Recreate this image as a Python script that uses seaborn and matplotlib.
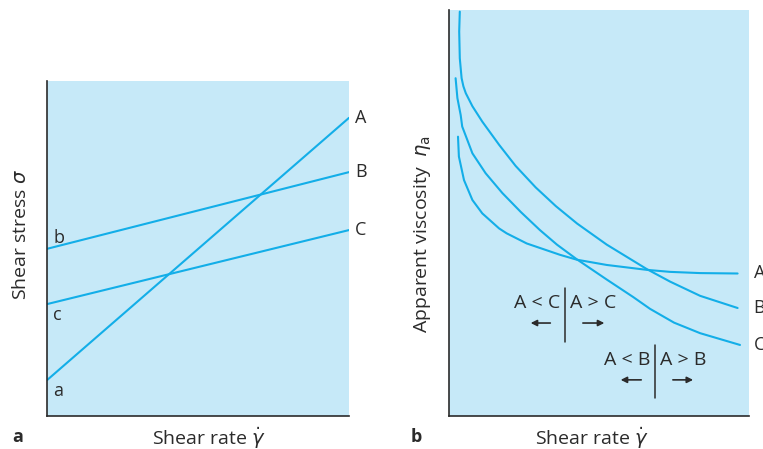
import matplotlib
matplotlib.use("Agg")
import matplotlib.pyplot as plt
import seaborn as sns
import pandas as pd

# panel a: straight flow curves (start at x=0, end at x=10)
lines_x = [0, 10]
line_A = [1.07, 8.9]
line_B = [4.99, 7.28]
line_C = [3.34, 5.55]

# panel b: apparent viscosity curves
B_x = [0.36, 0.34, 0.36, 0.42, 0.48, 0.56, 0.78, 1.11, 1.67, 2.22, 2.89, 3.56, 4.27, 5.26, 6.59, 7.37, 8.37, 9.62]
B_y = [9.96, 9.47, 8.81, 8.32, 8.12, 7.95, 7.63, 7.25, 6.68, 6.16, 5.63, 5.17, 4.74, 4.22, 3.62, 3.31, 2.96, 2.66]
C_x = [0.22, 0.28, 0.39, 0.44, 0.78, 1.22, 1.78, 2.40, 3.03, 3.60, 4.26, 5.26, 6.14, 6.70, 7.50, 8.37, 9.70]
C_y = [8.32, 7.83, 7.41, 7.13, 6.47, 5.98, 5.49, 5.02, 4.58, 4.22, 3.86, 3.36, 2.93, 2.64, 2.30, 2.04, 1.75]
A_x = [0.30, 0.33, 0.50, 0.78, 1.11, 1.67, 1.92, 2.59, 3.70, 4.26, 5.26, 6.59, 7.37, 8.37, 9.62]
A_y = [6.88, 6.39, 5.81, 5.32, 4.99, 4.62, 4.50, 4.25, 3.97, 3.85, 3.72, 3.60, 3.55, 3.52, 3.51]

sns.set_theme(style="white")
plt.rcParams['font.family'] = ['Open Sans', 'DejaVu Sans']
plt.rcParams['mathtext.fontset'] = 'dejavusans'

bg = '#c6e9f8'
blue = '#13aee8'
ink = '#2b2b2b'
fs = 13
lfs = 14

fig = plt.figure(figsize=(7.63, 4.49), dpi=100)
ax1 = fig.add_axes([47/763, 33/449, 302/763, 335/449])
ax2 = fig.add_axes([449/763, 33/449, 300/763, 406/449])

# panel a
for ys, lab in [(line_A, 'A'), (line_B, 'B'), (line_C, 'C')]:
    df = pd.DataFrame({'x': lines_x, 'y': ys})
    sns.lineplot(data=df, x='x', y='y', ax=ax1, color=blue, lw=1.5, estimator=None)
    ax1.text(10.2, ys[1], lab, ha='left', va='center', fontsize=fs, color=ink, clip_on=False)
ax1.text(0.2, line_B[0] + 0.05, 'b', ha='left', va='bottom', fontsize=fs, color=ink)
ax1.text(0.2, line_C[0] - 0.05, 'c', ha='left', va='top', fontsize=fs, color=ink)
ax1.text(0.2, line_A[0] - 0.05, 'a', ha='left', va='top', fontsize=fs, color=ink)

# panel b
for xs, ys, lab in [(A_x, A_y, 'A'), (B_x, B_y, 'B'), (C_x, C_y, 'C')]:
    df = pd.DataFrame({'x': xs, 'y': ys})
    sns.lineplot(data=df, x='x', y='y', ax=ax2, color=blue, lw=1.5, sort=False,
                 estimator=None, solid_joinstyle='round')
    ax2.text(10.15, ys[-1], lab, ha='left', va='center', fontsize=fs, color=ink, clip_on=False)

for ax in (ax1, ax2):
    ax.set_facecolor(bg)
    ax.set_xlim(0, 10)
    ax.set_ylim(0, 10)
    ax.set_xticks([])
    ax.set_yticks([])
    for s in ['top', 'right']:
        ax.spines[s].set_visible(False)
    for s in ['left', 'bottom']:
        ax.spines[s].set_color(ink)
        ax.spines[s].set_linewidth(1.2)
    ax.set_xlabel(r'Shear rate $\dot{\gamma}$', fontsize=lfs, color=ink, visible=True, va='center')

ax1.set_ylabel(r'Shear stress $\sigma$', fontsize=lfs, color=ink, visible=True, va='center')
ax2.set_ylabel(r'Apparent viscosity  $\eta_\mathrm{a}$', fontsize=lfs, color=ink, visible=True,
               va='center')
ax1.xaxis.set_label_coords(0.535, -0.065)
ax2.xaxis.set_label_coords(0.475, -0.054)
ax1.yaxis.set_label_coords(-0.085, 0.543)
ax2.yaxis.set_label_coords(-0.087, 0.448)

arrow = dict(arrowstyle='-|>', color=ink, lw=1.2, mutation_scale=9)
# A vs C
ax2.plot([3.87, 3.87], [1.82, 3.15], color=ink, lw=1.1)
ax2.text(3.72, 2.78, 'A < C', ha='right', va='center', fontsize=lfs, color=ink)
ax2.text(4.02, 2.78, 'A > C', ha='left', va='center', fontsize=lfs, color=ink)
ax2.annotate('', xy=(2.63, 2.29), xytext=(3.47, 2.29), arrowprops=arrow)
ax2.annotate('', xy=(5.27, 2.29), xytext=(4.37, 2.29), arrowprops=arrow)
# A vs B
ax2.plot([6.87, 6.87], [0.44, 1.75], color=ink, lw=1.1)
ax2.text(6.72, 1.38, 'A < B', ha='right', va='center', fontsize=lfs, color=ink)
ax2.text(7.02, 1.38, 'A > B', ha='left', va='center', fontsize=lfs, color=ink)
ax2.annotate('', xy=(5.63, 0.89), xytext=(6.5, 0.89), arrowprops=arrow)
ax2.annotate('', xy=(8.23, 0.89), xytext=(7.37, 0.89), arrowprops=arrow)

fig.text(12/763, 1 - 437/449, 'a', fontsize=fs, fontweight='bold', color=ink, va='center')
fig.text(411/763, 1 - 437/449, 'b', fontsize=fs, fontweight='bold', color=ink, va='center')

fig.savefig('out.png', dpi=100)
